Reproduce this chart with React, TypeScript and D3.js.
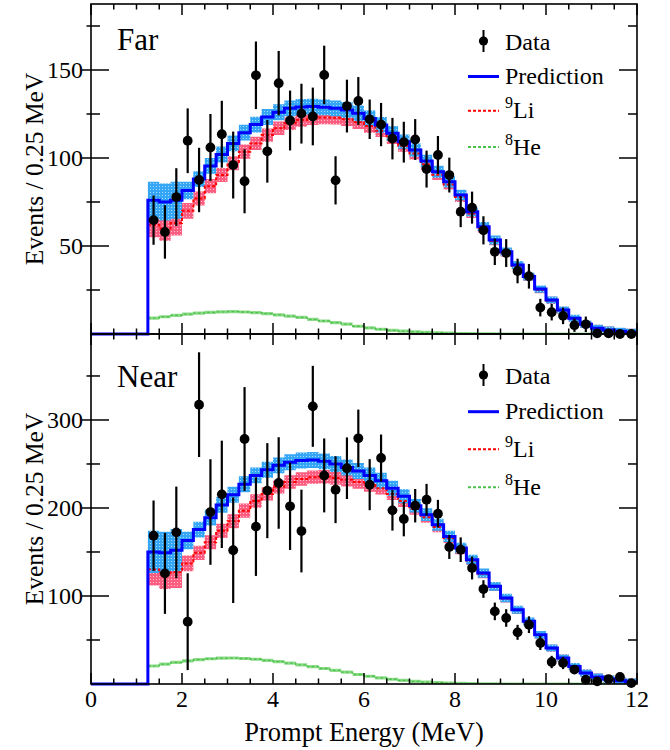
import React from "react";
import * as d3 from "d3";

// ---------- data ----------
const energyBins = [
  1.25, 1.5, 1.75, 2, 2.25, 2.5, 2.75, 3, 3.25, 3.5, 3.75, 4, 4.25, 4.5, 4.75,
  5, 5.25, 5.5, 5.75, 6, 6.25, 6.5, 6.75, 7, 7.25, 7.5, 7.75, 8, 8.25, 8.5,
  8.75, 9, 9.25, 9.5, 9.75, 10, 10.25, 10.5, 10.75, 11, 11.25, 11.5, 11.75,
];
const binWidth = 0.25;
const xTicks = [0, 2, 4, 6, 8, 10, 12];
const farYTicks = [50, 100, 150];
const nearYTicks = [100, 200, 300];

const farData = [
  64.7, 58, 77.8, 109.8, 87.5, 106, 113.5, 96, 86.8, 147, 103.8, 142.5, 121.3,
  125.2, 123.6, 147.2, 87.3, 129.5, 132.4, 122, 119, 111, 109, 110.5, 93.7,
  101.7, 90.3, 69.5, 71.8, 58.9, 46.7, 46, 35.8, 32.8, 15, 12.4, 10.3, 5, 5.5,
  0.4, 0.4, 0, 0,
];
const farErr = [
  14, 15.2, 16.4, 18.4, 18.3, 19, 19, 19, 18.2, 19.2, 17.8, 18.3, 17, 17, 16.4,
  16.6, 13.7, 15, 13.6, 11.2, 12.3, 11.8, 11.6, 11.6, 10.5, 10.8, 9.9, 8.8, 9.1,
  8, 7.5, 7.9, 7, 7, 5, 4.7, 4.7, 3.8, 4.4, 1.5, 1.5, 1, 1,
];
const farPred = [
  76, 75, 76, 81.5, 88, 95.5, 102, 108.3, 114.4, 119, 123.3, 126, 128.2, 129,
  129.2, 128.8, 128.2, 127.3, 125.4, 122.5, 118.8, 114, 109.3, 104.5, 98.3,
  92.2, 86.5, 79, 69.5, 61, 53.4, 46.8, 39.2, 32.6, 25.5, 19.3, 13.6, 8.9, 5.5,
  3.3, 2.3, 1.5, 1.0,
];
const farPredBand = [
  10.5, 10.5, 10.5, 5, 4.5, 4.5, 4.5, 4.5, 4.5, 4.5, 4.5, 4.5, 4.5, 4.5, 4.5,
  4.5, 4.5, 4.5, 4.5, 4.5, 4.5, 4.2, 4, 3.8, 3.6, 3.4, 3.2, 3, 2.8, 2.6, 2.5,
  2.4, 2.3, 2.2, 2.1, 2, 2, 2, 2, 2, 2, 2, 2,
];
const farLi = [
  62, 60, 63, 70, 77, 84, 90.3, 97, 103.6, 108.3, 113, 116.9, 119.7, 121.6,
  122.5, 123, 122.8, 122, 120.3, 118.2, 115.5, 111.5, 107, 102.5, 96.5, 90.5,
  85, 77.8, 68.5, 60.2, 52.8, 46.3, 38.8, 32.3, 25.2, 19.1, 13.5, 8.8, 5.4, 3.2,
  2.2, 1.4, 1.0,
];
const farLiBand = [
  7, 7, 7, 4.5, 4, 4, 4, 4, 4, 3.8, 3.8, 3.8, 3.8, 3.8, 3.8, 3.8, 3.8, 3.8, 3.8,
  3.8, 3.6, 3.5, 3.4, 3.3, 3.2, 3, 2.9, 2.8, 2.6, 2.5, 2.4, 2.3, 2.2, 2.1, 2, 2,
  2, 2, 2, 2, 2, 2, 2,
];
const farHe = [
  9.0, 9.8, 10.6, 11.3, 11.9, 12.3, 12.6, 12.7, 12.5, 12.1, 11.6, 10.9, 10.2,
  9.4, 8.3, 7.4, 6.5, 5.6, 4.4, 3.5, 2.7, 2.1, 1.6, 1.2, 0.9, 0.7, 0.5, 0.3,
  0.2, 0.1, 0.1, 0, 0, 0, 0, 0, 0, 0, 0, 0, 0, 0, 0,
];

const nearData = [
  168.5, 125.7, 172.3, 70.8, 317.4, 195.4, 215.5, 152, 278.4, 178.8, 219.7,
  228.4, 201.9, 173.8, 315.5, 237, 220.8, 245.2, 279.2, 226.5, 256.8, 197.3,
  187.5, 202.6, 209.4, 193.5, 155.7, 152.6, 131.8, 107.9, 82.5, 75, 58.7, 67.4,
  46.6, 25, 23.9, 16.3, 4.9, 3, 5.6, 8, 1,
];
const nearErr = [
  40, 46, 52, 55, 59.5, 60, 61, 60, 59, 56, 54, 52, 49.6, 47, 46, 42, 38, 35,
  32.6, 29, 26.7, 23, 19.7, 19, 18, 15.7, 13.6, 14, 13, 10, 10, 10, 8.5, 9.5, 8,
  7, 7, 5, 4, 3, 4, 4, 2,
];
const nearPred = [
  150, 149, 152, 163, 175.5, 189, 203.5, 215, 227, 237, 243.5, 248.5, 252, 254,
  254.5, 253, 250, 246, 242, 237, 231, 222.5, 213.3, 202.6, 192.4, 181, 167.7,
  154.5, 141.3, 126, 111, 97.7, 84.4, 71.2, 56, 40.9, 29.5, 20, 12.5, 8, 5.7,
  3.8, 2.3,
];
const nearPredBand = [
  24, 24, 24, 10, 9, 9, 9, 9, 9, 9, 9, 9, 9, 9, 9, 9, 9, 9, 9, 9, 9, 8.5, 8, 7.6,
  7.2, 6.8, 6.4, 6, 5.6, 5.2, 5, 4.8, 4.6, 4.4, 4.2, 4, 4, 4, 4, 4, 4, 4, 4,
];
const nearLi = [
  130, 126, 127, 137, 149, 161, 174, 185, 197, 208, 216, 224, 229.5, 233, 235,
  235.5, 234, 232, 229.5, 226, 222.5, 216, 208, 199, 189.5, 178.5, 166, 153,
  140.3, 125.2, 110.4, 97.2, 84, 70.9, 55.8, 40.7, 29.4, 19.9, 12.4, 7.9, 5.6,
  3.7, 2.2,
];
const nearLiBand = [
  18, 18, 18, 9, 8, 8, 8, 8, 8, 7.6, 7.6, 7.6, 7.6, 7.6, 7.6, 7.6, 7.6, 7.6, 7.6,
  7.6, 7.2, 7, 6.8, 6.6, 6.4, 6, 5.8, 5.6, 5.2, 5, 4.8, 4.6, 4.4, 4.2, 4, 4, 4,
  4, 4, 4, 4, 4, 4,
];
const nearHe = [
  20.5, 22.5, 24.5, 26.3, 27.7, 28.7, 29.4, 29.5, 29, 28.1, 26.9, 25.4, 23.7,
  21.8, 19.7, 17.6, 15.5, 13.4, 10.8, 8.8, 7.0, 5.4, 4.1, 3.0, 2.2, 1.6, 1.1,
  0.7, 0.4, 0.2, 0.1, 0, 0, 0, 0, 0, 0, 0, 0, 0, 0, 0, 0,
];

// ---------- layout ----------
const FONT = "'Liberation Serif', 'Times New Roman', serif";
const X0 = 91;
const X1 = 637;
const xScale = d3.scaleLinear().domain([0, 12]).range([X0, X1]);

type PanelProps = {
  id: string;
  top: number;
  bottom: number;
  yMax: number;
  yTicks: number[];
  minorStep: number;
  label: string;
  data: number[];
  err: number[];
  pred: number[];
  predBand: number[];
  li: number[];
  liBand: number[];
  he: number[];
  heBand: number;
  legendY: number[];
  labelY: number;
  showXLabels: boolean;
};

function Panel(p: PanelProps) {
  const y = d3.scaleLinear().domain([0, p.yMax]).range([p.bottom, p.top]);
  const edges = [...energyBins, energyBins[energyBins.length - 1] + binWidth];
  const stepPts = (vals: number[]) =>
    edges.map((e, i) => [e, vals[Math.min(i, vals.length - 1)]] as [number, number]);

  const line = d3
    .line<[number, number]>()
    .x((d) => xScale(d[0]))
    .y((d) => y(d[1]))
    .curve(d3.curveStepAfter);

  const band = (vals: number[], errs: number[] | number) =>
    d3
      .area<number>()
      .x((_, i) => xScale(edges[i]))
      .y0((_, i) => {
        const k = Math.min(i, vals.length - 1);
        const e = typeof errs === "number" ? errs : errs[k];
        return y(Math.max(0, vals[k] - e));
      })
      .y1((_, i) => {
        const k = Math.min(i, vals.length - 1);
        const e = typeof errs === "number" ? errs : errs[k];
        return y(vals[k] + e);
      })
      .curve(d3.curveStepAfter)(edges.map((_, i) => i)) as string;

  const predPts: [number, number][] = [[0, 0], ...stepPts(p.pred)];
  const yMinor = d3.range(p.minorStep, p.yMax, p.minorStep);
  const xMinor = d3.range(0, 12.01, 0.5);

  const clipId = `clip-${p.id}`;
  const legX = 468;
  const [lgData, lgPred, lgLi, lgHe] = p.legendY;

  return (
    <g>
      <defs>
        <clipPath id={clipId}>
          <rect x={X0} y={p.top} width={X1 - X0} height={p.bottom - p.top} />
        </clipPath>
      </defs>
      <g clipPath={`url(#${clipId})`}>
        <path d={band(p.he, p.heBand)} fill="#8edc8a" />
        <path d={band(p.li, p.liBand)} fill="url(#pinkPat)" />
        <path d={band(p.pred, p.predBand)} fill="url(#bluePat)" />
        <path
          d={line(stepPts(p.he)) as string}
          fill="none"
          stroke="#4cc24c"
          strokeWidth={1.3}
          strokeDasharray="3 2"
        />
        <path
          d={line(stepPts(p.li)) as string}
          fill="none"
          stroke="#ff0000"
          strokeWidth={2}
          strokeDasharray="3 2"
        />
      </g>
      <path
        d={line(predPts) as string}
        fill="none"
        stroke="#0000ff"
        strokeWidth={3}
      />

      {/* frame */}
      <rect
        x={X0}
        y={p.top}
        width={X1 - X0}
        height={p.bottom - p.top}
        fill="none"
        stroke="#000"
        strokeWidth={1.6}
      />
      {p.data.map((v, i) => {
        const cx = xScale(energyBins[i] + binWidth / 2);
        return (
          <g key={i}>
            <line
              x1={cx}
              x2={cx}
              y1={y(Math.max(0, v - p.err[i]))}
              y2={y(v + p.err[i])}
              stroke="#000"
              strokeWidth={2.2}
            />
            <circle cx={cx} cy={y(v)} r={4.9} fill="#000" />
          </g>
        );
      })}
      {/* y ticks */}
      {yMinor.map((t) => {
        const major = p.yTicks.includes(t);
        const yy = y(t);
        return (
          <g key={`y${t}`} stroke="#000" strokeWidth={1.5}>
            <line x1={X0 - (major ? 9 : 4.5)} x2={X0 + (major ? 18 : 9)} y1={yy} y2={yy} />
            <line x1={X1 - (major ? 18 : 9)} x2={X1} y1={yy} y2={yy} />
          </g>
        );
      })}
      {p.yTicks.map((t) => (
        <text
          key={`yl${t}`}
          x={X0 - 8}
          y={y(t) + 8}
          textAnchor="end"
          fontFamily={FONT}
          fontSize={24}
          fill="#000"
        >
          {t}
        </text>
      ))}
      {/* x ticks */}
      {xMinor.map((t) => {
        const major = Math.abs(t - Math.round(t / 2) * 2) < 1e-6;
        const xx = xScale(t);
        const len = major ? 11 : 5.5;
        return (
          <g key={`x${t}`} stroke="#000" strokeWidth={1.5}>
            <line x1={xx} x2={xx} y1={p.bottom} y2={p.bottom - len} />
            <line x1={xx} x2={xx} y1={p.top} y2={p.top + len} />
          </g>
        );
      })}
      {p.showXLabels &&
        xTicks.map((t) => (
          <text
            key={`xl${t}`}
            x={xScale(t)}
            y={p.bottom + 23}
            textAnchor="middle"
            fontFamily={FONT}
            fontSize={24}
            fill="#000"
          >
            {t}
          </text>
        ))}
      {/* y title */}
      <text
        transform={`translate(43, ${(p.top + p.bottom) / 2}) rotate(-90)`}
        textAnchor="middle"
        fontFamily={FONT}
        fontSize={25.5}
        fill="#000"
      >
        Events / 0.25 MeV
      </text>
      {/* panel label */}
      <text x={117} y={p.labelY} fontFamily={FONT} fontSize={31} fill="#000">
        {p.label}
      </text>
      {/* legend */}
      <g fontFamily={FONT} fontSize={24} fill="#000">
        <line x1={483.5} x2={483.5} y1={lgData - 11} y2={lgData + 11} stroke="#000" strokeWidth={2} />
        <circle cx={483.5} cy={lgData} r={4.6} fill="#000" />
        <text x={505} y={lgData + 8.5}>Data</text>
        <line x1={legX} x2={499} y1={lgPred} y2={lgPred} stroke="#0000ff" strokeWidth={3} />
        <text x={505} y={lgPred + 7}>Prediction</text>
        <line x1={legX} x2={499} y1={lgLi} y2={lgLi} stroke="#ff0000" strokeWidth={2} strokeDasharray="3 2" />
        <text x={505} y={lgLi + 7.5}>
          <tspan fontSize={16} dy={-10}>9</tspan>
          <tspan dy={10}>Li</tspan>
        </text>
        <line x1={legX} x2={499} y1={lgHe} y2={lgHe} stroke="#4cc24c" strokeWidth={2} strokeDasharray="3 2" />
        <text x={505} y={lgHe + 7.5}>
          <tspan fontSize={16} dy={-10}>8</tspan>
          <tspan dy={10}>He</tspan>
        </text>
      </g>
    </g>
  );
}

export default function App() {
  return (
    <svg
      width={670}
      height={750}
      style={{ position: "absolute", left: 0, top: 0, background: "#fff" }}
    >
      <defs>
        <pattern id="bluePat" width={3} height={3} patternUnits="userSpaceOnUse">
          <rect width={3} height={3} fill="#35a6f5" />
          <rect width={1} height={1} fill="#a6dcff" />
        </pattern>
        <pattern id="pinkPat" width={3} height={3} patternUnits="userSpaceOnUse">
          <rect width={3} height={3} fill="#fb5e80" />
          <rect width={1} height={1} fill="#ffc0cc" />
        </pattern>
      </defs>
      <rect width={670} height={750} fill="#fff" />
      <Panel
        id="far"
        top={4}
        bottom={334}
        yMax={187.5}
        yTicks={farYTicks}
        minorStep={25}
        label="Far"
        data={farData}
        err={farErr}
        pred={farPred}
        predBand={farPredBand}
        li={farLi}
        liBand={farLiBand}
        he={farHe}
        heBand={0.9}
        legendY={[41, 76.5, 110.7, 147]}
        labelY={50}
        showXLabels={false}
      />
      <Panel
        id="near"
        top={334}
        bottom={684}
        yMax={397.7}
        yTicks={nearYTicks}
        minorStep={50}
        label="Near"
        data={nearData}
        err={nearErr}
        pred={nearPred}
        predBand={nearPredBand}
        li={nearLi}
        liBand={nearLiBand}
        he={nearHe}
        heBand={1.8}
        legendY={[375, 411.7, 449.3, 487.3]}
        labelY={387}
        showXLabels={true}
      />
      <text
        x={(X0 + X1) / 2}
        y={741}
        textAnchor="middle"
        fontFamily={FONT}
        fontSize={26.5}
        fill="#000"
      >
        Prompt Energy (MeV)
      </text>
    </svg>
  );
}
